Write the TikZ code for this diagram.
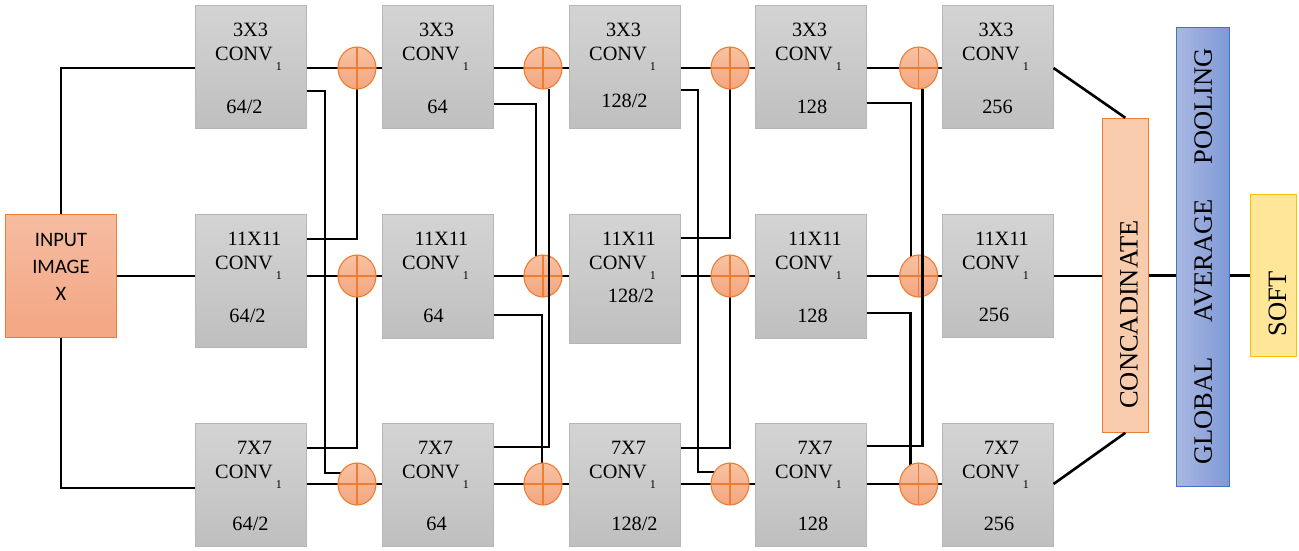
\documentclass[tikz,border=0pt]{standalone}
\usepackage{fontspec}
\setmainfont{Liberation Serif}
\newfontfamily\calib{Carlito}
\usetikzlibrary{shapes.geometric,calc}

\definecolor{boxtop}{HTML}{D4D4D4}
\definecolor{boxbot}{HTML}{BFBFBF}
\definecolor{boxline}{HTML}{B6B6B6}
\definecolor{orng}{HTML}{ED7D31}
\definecolor{cirtop}{HTML}{F7C2A4}
\definecolor{cirbot}{HTML}{F3A67F}
\definecolor{intop}{HTML}{F6BCA1}
\definecolor{inbot}{HTML}{F3A683}
\definecolor{catfill}{HTML}{F8CBAD}
\definecolor{gapl}{HTML}{A9B8E2}
\definecolor{gapr}{HTML}{7F98D5}
\definecolor{gapline}{HTML}{4472C4}
\definecolor{softfill}{HTML}{FFE699}
\definecolor{softline}{HTML}{FFC000}

\newcommand\convsub{CONV\hspace{3pt}\raisebox{-10pt}{\fontsize{12}{12}\selectfont 1}}

% #1 name, #2 centre x, #3 top y, #4 height, #5 first line, #6 its x shift,
% #7 last line, #8 its x shift, #9 its baseline below top
\newcommand\convbox[9]{%
  \node[convbox, minimum height=#4pt] (#1) at ({#2},{#3+#4/2}) {};
  \node[ctext, anchor=base] (#1a) at ({#2+#6},{#3+31}) {#5};
  \node[ctext, anchor=base] (#1b) at ({#2-2},{#3+55}) {\convsub};
  \node[ctext, anchor=base] (#1c) at ({#2+#8},{#3+#9}) {#7};
}

\tikzset{
  convbox/.style={rectangle, draw=boxline, line width=1pt, top color=boxtop,
    bottom color=boxbot, minimum width=111pt, inner sep=0pt},
  ctext/.style={font=\fontsize{20.3}{24}\selectfont, inner sep=0pt},
  adder/.style={ellipse, draw=orng, line width=1.1pt, minimum width=38pt,
    minimum height=42pt, inner sep=0pt, top color=cirtop, bottom color=cirbot,
    path picture={\draw[orng, line width=1.1pt]
      (path picture bounding box.north) -- (path picture bounding box.south)
      (path picture bounding box.west) -- (path picture bounding box.east);}},
  wire/.style={line width=2.6pt, black},
  inbox/.style={rectangle, draw=orng, line width=1.1pt, top color=intop,
    bottom color=inbot, minimum width=110.6pt, minimum height=122.3pt, inner sep=0pt},
  intext/.style={font=\calib\fontsize{20.5}{24}\selectfont, inner sep=0pt},
  catbox/.style={rectangle, draw=orng, line width=1.1pt, fill=catfill,
    minimum width=46pt, minimum height=314pt, inner sep=0pt},
  gapbox/.style={rectangle, draw=gapline, line width=1.1pt, left color=gapl,
    right color=gapr, minimum width=52.6pt, minimum height=458.3pt, inner sep=0pt},
  softbox/.style={rectangle, draw=softline, line width=1.1pt, fill=softfill,
    minimum width=46pt, minimum height=162.7pt, inner sep=0pt},
  vtext/.style={font=\fontsize{26.5}{30}\selectfont, inner sep=0pt, rotate=90},
}

\begin{document}
\begin{tikzpicture}[x=1pt, y=-1pt]
\useasboundingbox (0,0) rectangle (1299,550);

% input
\node[inbox] (in) at (61,276) {};
\node[intext, anchor=base] (in1) at (61,246.7) {INPUT};
\node[intext, anchor=base] (in2) at (61,273.3) {IMAGE};
\node[intext, anchor=base] (in3) at (61,300) {X};

% conv boxes
\convbox{b11}{250.5}{5}{123}{3X3}{0}{64/2}{-6}{108}
\convbox{b12}{437.5}{5}{123}{3X3}{-1}{64}{0}{108}
\convbox{b13}{624.5}{5}{123}{3X3}{-1}{128/2}{0}{102}
\convbox{b14}{810.5}{5}{123}{3X3}{-1}{128}{1.5}{108}
\convbox{b15}{997.5}{5}{123}{3X3}{-1.5}{256}{0}{108}
\convbox{b21}{250.5}{214}{133}{11X11}{4}{64/2}{-3}{108}
\convbox{b22}{437.5}{214}{124}{11X11}{4}{64}{-4}{108}
\convbox{b23}{624.5}{214}{129}{11X11}{4.5}{128/2}{6.5}{88}
\convbox{b24}{810.5}{214}{124}{11X11}{4.5}{128}{2}{108}
\convbox{b25}{997.5}{214}{123}{11X11}{4.5}{256}{-3.5}{107}
\convbox{b31}{250.5}{423}{123}{7X7}{4}{64/2}{0}{107}
\convbox{b32}{437.5}{423}{123}{7X7}{-2}{64}{-1}{107}
\convbox{b33}{624.5}{423}{123}{7X7}{4}{128/2}{10}{107}
\convbox{b34}{810.5}{423}{123}{7X7}{4.5}{128}{2.5}{107}
\convbox{b35}{997.5}{423}{123}{7X7}{4}{256}{1.5}{107}

% concat / pooling / soft
\node[catbox] (cat) at (1125.3,275.3) {};
\node[vtext] (catt) at (1129,314.5) {CONCADINATE};
\node[gapbox] (gap) at (1203,256.9) {};
\node[vtext] (gap1) at (1203.3,106.5) {POOLING};
\node[vtext] (gap2) at (1203.3,260.5) {AVERAGE};
\node[vtext] (gap3) at (1203.3,411) {GLOBAL};
\node[softbox] (soft) at (1273.7,275.4) {};
\node[vtext] (softt) at (1277.5,304) {SOFT};

% adder coordinates (drawn later)
\coordinate (c11) at (357,68);   \coordinate (c21) at (357,276);   \coordinate (c31) at (357,484);
\coordinate (c12) at (543,68);   \coordinate (c22) at (543,276);   \coordinate (c32) at (543,484);
\coordinate (c13) at (730,68);   \coordinate (c23) at (730,276);   \coordinate (c33) at (730,484);
\coordinate (c14) at (918.7,68); \coordinate (c24) at (918.7,276); \coordinate (c34) at (918.7,484);

% input wires
\draw[wire] (in.north) |- (b11.west |- c11);
\draw[wire] (in.east) -- (b21.west |- in.east);
\draw[wire] (in.south) |- ([yshift=-3.5pt]b31.west);

% main row lines
\foreach \r in {1,2,3}{
  \draw[wire] (b\r1.east |- c\r1) -- (b\r2.west |- c\r1);
  \draw[wire] (b\r2.east |- c\r2) -- (b\r3.west |- c\r2);
  \draw[wire] (b\r3.east |- c\r3) -- (b\r4.west |- c\r3);
  \draw[wire] (b\r4.east |- c\r4) -- (b\r5.west |- c\r4);
}

% skip wires ending in adders
\draw[wire] (b11.east |- 0,91) -- (325,91) |- ([yshift=11pt]c31);
\draw[wire] (b21.east |- 0,239) -| (c11);
\draw[wire] (b31.east |- 0,448) -| (c21);
\draw[wire] (b12.east |- 0,104) -| ([xshift=-7pt]c22);
\draw[wire] (b22.east |- 0,315) -| ([xshift=-1pt]c32);
\draw[wire] (b13.east |- 0,90) -- (698,90) |- ([yshift=12pt]c33);
\draw[wire] (b23.east |- 0,238) -| (c13);
\draw[wire] (b33.east |- 0,448) -| (c23);
\draw[wire] (b14.east |- 0,103) -| ([xshift=-7.7pt]c24);
\draw[wire] (b24.east |- 0,313) -| ([xshift=-8pt]c34);

% output wires
\draw[wire] (b15.east |- c14) -- (cat.north);
\draw[wire] (b25.east |- c24) -- (cat.west |- c24);
\draw[wire] (b35.east |- c34) -- (cat.south);
\draw[wire] (cat.east) -- (gap.west |- cat.east);
\draw[wire] (gap.east |- soft.west) -- (soft.west);

% adders
\foreach \r in {1,2,3}{
  \foreach \c in {1,2,3,4}{
    \node[adder] (a\r\c) at (c\r\c) {};
  }
}

% skip wires passing over adders
\draw[wire] (b32.east |- 0,447) -| ([xshift=6pt,yshift=1pt]a12.south);
\draw[wire] (b34.east |- 0,446) -| ([xshift=4pt,yshift=1pt]a14.south);
\end{tikzpicture}
\end{document}
